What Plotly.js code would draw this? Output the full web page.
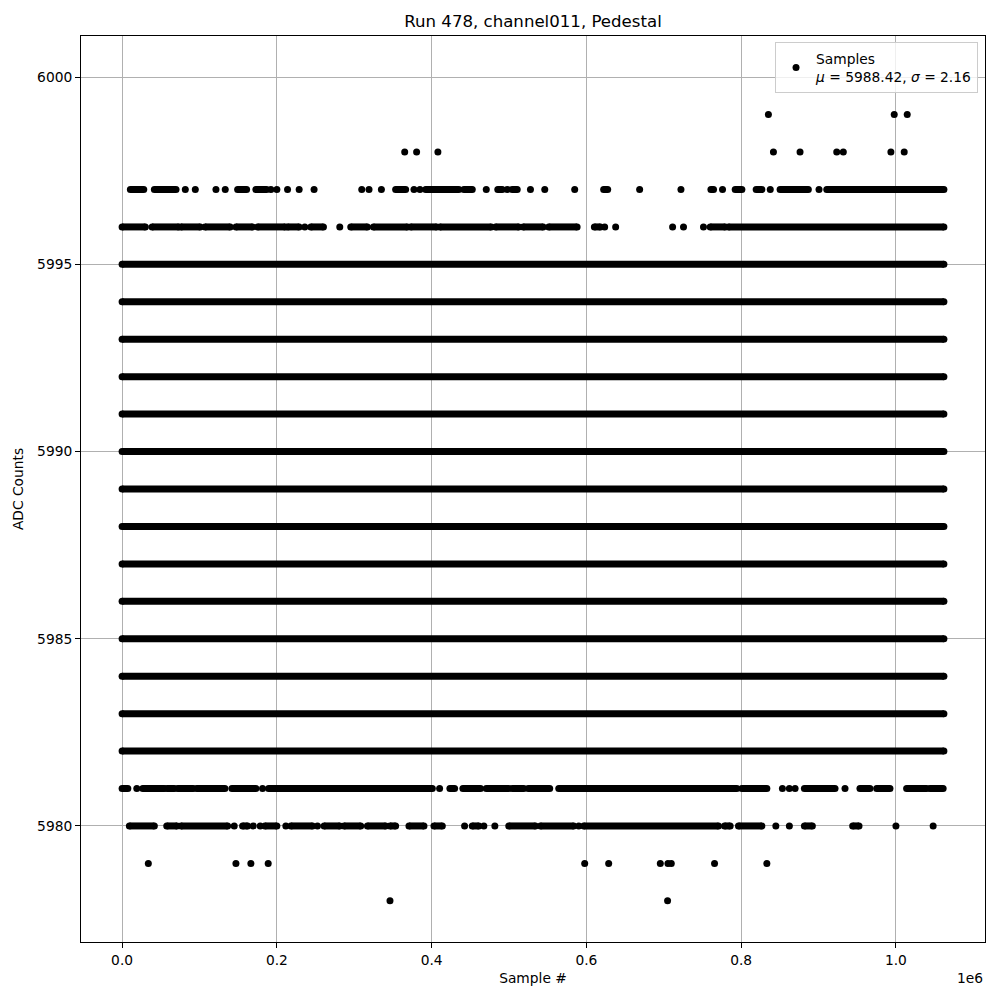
<!DOCTYPE html>
<html>
<head>
<meta charset="utf-8">
<script src="https://cdn.plot.ly/plotly-3.0.1.min.js"></script>
<style>html,body{margin:0;padding:0;background:#fff;}#chart{width:1000px;height:1000px;}</style>
</head>
<body>
<div id="chart"></div>
<script>
// x positions in thousands of samples; [a, b] = run of densely packed samples, single number = isolated sample
const SCALE = 1000;
const chartTitle = "Run 478, channel011, Pedestal";
const xLabel = "Sample #";
const yLabel = "ADC Counts";
const legendLabel = "Samples<br><i>μ</i> = 5988.42, <i>σ</i> = 2.16";
const xTickVals = [0, 200000, 400000, 600000, 800000, 1000000];
const xTickText = ["0.0", "0.2", "0.4", "0.6", "0.8", "1.0"];
const yTickVals = [5980, 5985, 5990, 5995, 6000];
const xOffsetLabel = "1e6";

const fullRun = [0, 1062];
const denseLevels = [5982, 5983, 5984, 5985, 5986, 5987, 5988, 5989, 5990, 5991, 5992, 5993, 5994, 5995];

const level5999 = [835.2, 997.8, 1014.6];
const level5998 = [365.2, 380.6, 408.1, 841.7, 876.1, 923.5, 932.0, 993.5, 1010.7];
const level5997 = [[10.7, 28.0], [41.7, 69.7], 81.7, 94.6, 121.3, 133.3, [149.3, 160.9], [172.9, 186.7],
  192.3, 200.0, 213.8, 228.8, 248.1, 309.7, 319.1, 335.1, [353.5, 366.4], 377.2, 384.9, [392.3, 435.2],
  [441.7, 452.5], 470.6, [485.5, 491.2], 497.7, [504.1, 510.6], 527.7, 546.2, 584.9, [622.3, 627.5],
  668.8, 722.2, [760.9, 764.3], 775.9, [792.3, 800.9], [819.4, 826.7], 837.6, [850.3, 886.8], 900.6,
  [910.6, 1062]];
const level5996 = [[0, 30.1], [38.7, 73.2], [76.1, 101.0], [107.1, 139.7], [147.1, 168.6], [175.1, 210.7],
  [213.8, 228.8], 236.1, [243.9, 260.2], 281.3, [295.5, 317.0], [324.8, 368.6], [372.9, 406.4],
  [410.7, 477.0], [482.6, 512.6], [518.3, 544.1], [551.3, 588.0], [610.3, 618.1], 623.6, 637.8,
  711.4, 725.5, 751.3, [760.0, 779.4], [783.6, 1062]];
const level5981 = [[0, 7.4], 19.0, [26.7, 54.6], [58.1, 67.5], [71.9, 92.0], [96.4, 132.9], [141.9, 172.9],
  181.5, [189.3, 400.9], 410.3, [423.6, 429.7], [440.4, 463.2], [470.6, 499.7], [504.1, 519.1],
  [524.8, 552.6], [564.3, 794.4], [800.9, 833.2], 853.3, 862.3, 869.7, [881.7, 921.3], 934.2,
  [953.5, 966.4], [975.1, 992.3], [1013.8, 1039.6], [1043.9, 1061.0]];
const level5980 = [[9.4, 41.7], [57.7, 71.0], [76.1, 136.4], 144.9, [155.7, 162.2], 169.4, 178.5,
  [184.5, 200.0], 211.6, [218.1, 246.1], 252.5, [261.0, 281.3], [286.8, 308.4], [317.0, 340.6],
  [346.2, 353.5], [370.7, 390.1], [403.0, 413.8], 442.6, [452.5, 461.0], 467.5, 481.7, [499.7, 534.2],
  [540.6, 583.6], 590.1, [596.5, 770.7], [778.5, 785.8], [796.5, 826.7], 844.8, 862.3, [881.7, 892.0],
  [944.1, 952.3], 1000.0, 1048.1];
const level5979 = [33.9, 147.1, 166.4, 188.8, 597.8, 628.8, 695.5, 705.4, 709.7, 765.6, 833.2];
const level5978 = [346.2, 704.9];

const sparseLevels = [
  [5999, level5999], [5998, level5998], [5997, level5997], [5996, level5996],
  [5981, level5981], [5980, level5980], [5979, level5979], [5978, level5978]
];

const xs = [], ys = [];
function addLevel(yVal, items) {
  items.forEach(it => {
    if (Array.isArray(it)) {
      xs.push(it[0] * SCALE, it[1] * SCALE, null);
      ys.push(yVal, yVal, null);
    } else {
      xs.push(it * SCALE, null);
      ys.push(yVal, null);
    }
  });
}
denseLevels.forEach(lv => addLevel(lv, [fullRun]));
sparseLevels.forEach(([lv, items]) => addLevel(lv, items));

const font = {family: "DejaVu Sans, sans-serif", color: "#000"};

const traces = [
  {
    type: "scatter", mode: "lines+markers", x: xs, y: ys,
    line: {color: "#000", width: 7}, marker: {color: "#000", size: 7},
    connectgaps: false, showlegend: false, hoverinfo: "skip"
  },
  {
    type: "scatter", mode: "markers", x: [null], y: [null], name: legendLabel,
    marker: {color: "#000", size: 7}, showlegend: true
  }
];

const axisCommon = {
  showline: true, linecolor: "#000", linewidth: 1, mirror: true,
  ticks: "outside", ticklen: 5, tickwidth: 1, tickcolor: "#000",
  showgrid: true, gridcolor: "#b0b0b0", gridwidth: 1, zeroline: false,
  tickfont: {family: font.family, size: 13.8, color: "#000"}
};

const layout = {
  width: 1000, height: 1000,
  paper_bgcolor: "#fff", plot_bgcolor: "#fff",
  margin: {l: 81, r: 15, t: 36, b: 58, autoexpand: false},
  font: font,
  title: {text: chartTitle, font: {family: font.family, size: 16.6, color: "#000"},
          x: 0.5, xanchor: "center", y: 0.979, yanchor: "middle", xref: "paper"},
  xaxis: Object.assign({}, axisCommon, {
    range: [-53100, 1115100], tickvals: xTickVals, ticktext: xTickText,
    title: {text: xLabel, font: {family: font.family, size: 13.8, color: "#000"}, standoff: 6}
  }),
  yaxis: Object.assign({}, axisCommon, {
    range: [5976.9, 6001.1], tickvals: yTickVals,
    title: {text: yLabel, font: {family: font.family, size: 13.8, color: "#000"}, standoff: 10}
  }),
  legend: {
    x: 0.9923, y: 0.9934, xanchor: "right", yanchor: "top",
    bgcolor: "rgba(255,255,255,0.8)", bordercolor: "#cccccc", borderwidth: 1,
    font: {family: font.family, size: 13.8, color: "#000"}
  },
  annotations: [{
    text: xOffsetLabel, xref: "paper", yref: "paper", x: 1, y: 0,
    xanchor: "right", yanchor: "top", yshift: -26, showarrow: false,
    font: {family: font.family, size: 13.8, color: "#000"}
  }]
};

Plotly.newPlot("chart", traces, layout, {displayModeBar: false, staticPlot: true});
</script>
</body>
</html>
